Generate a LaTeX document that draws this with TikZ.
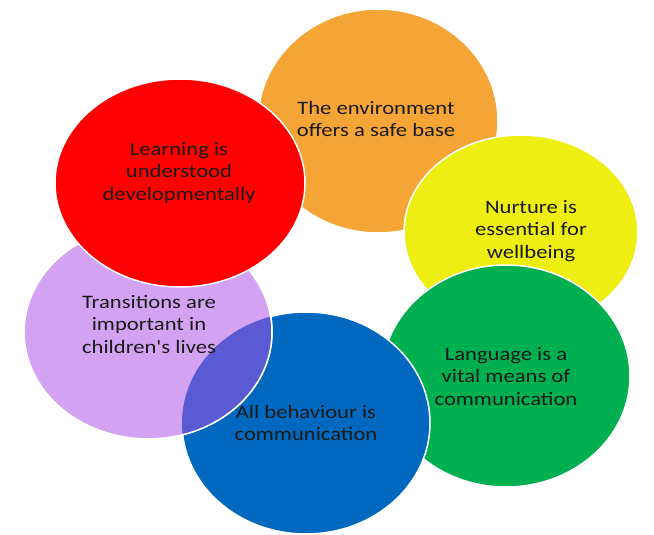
\documentclass[tikz,border=0pt]{standalone}
\usepackage{fontspec}
\newfontfamily\calib{Carlito}
\usepackage{graphicx}
\definecolor{cOrange}{HTML}{F4A535}
\definecolor{cRed}{HTML}{FF0000}
\definecolor{cYellow}{HTML}{EEEE12}
\definecolor{cGreen}{HTML}{00AF50}
\definecolor{cBlue}{HTML}{0068BE}
\definecolor{cViolet}{HTML}{D4A2F2}
\definecolor{cOver}{HTML}{5A5AD2}
\definecolor{cText}{HTML}{1A1A1A}
\newcommand{\lbl}[1]{\scalebox{1.19}[1]{\calib\fontsize{19}{22.5}\selectfont\begin{tabular}{@{}c@{}}#1\end{tabular}}}
\begin{document}
\begin{tikzpicture}[x=1pt,y=-1pt,
  blob/.style={draw=white,line width=1.5pt},
  lab/.style={inner sep=0pt,text=cText}]
\useasboundingbox[fill=white] (0,0) rectangle (654,535);
% orange
\path[blob,fill=cOrange] (378,121) ellipse [x radius=120,y radius=112];
% yellow
\path[blob,fill=cYellow] (521,232) ellipse [x radius=117,y radius=97];
% green
\path[blob,fill=cGreen] (506,376) ellipse [x radius=124,y radius=111];
% blue
\path[blob,fill=cBlue] (306,423) ellipse [x radius=124,y radius=111];
% violet
\path[blob,fill=cViolet] (148,332) ellipse [x radius=124,y radius=107];
\begin{scope}
\clip (148,332) ellipse [x radius=124,y radius=107];
\fill[cOver] (306,423) ellipse [x radius=124,y radius=111];
\end{scope}
\path[blob] (148,332) ellipse [x radius=124,y radius=107];
% red
\path[blob,fill=cRed] (180,183) ellipse [x radius=125,y radius=104];
% labels
\node[lab] (tOrange) at (376,121) {\lbl{The environment\\offers a safe base}};
\node[lab] (tRed) at (179,173) {\lbl{Learning is\\understood\\developmentally}};
\node[lab] (tYellow) at (531,231) {\lbl{Nurture is\\essential for\\wellbeing}};
\node[lab] (tGreen) at (506,378) {\lbl{Language is a\\vital means of\\communication}};
\node[lab] (tBlue) at (306,425) {\lbl{All behaviour is\\communication}};
\node[lab] (tViolet) at (149,326) {\lbl{Transitions are\\important in\\children's lives}};
\end{tikzpicture}
\end{document}
